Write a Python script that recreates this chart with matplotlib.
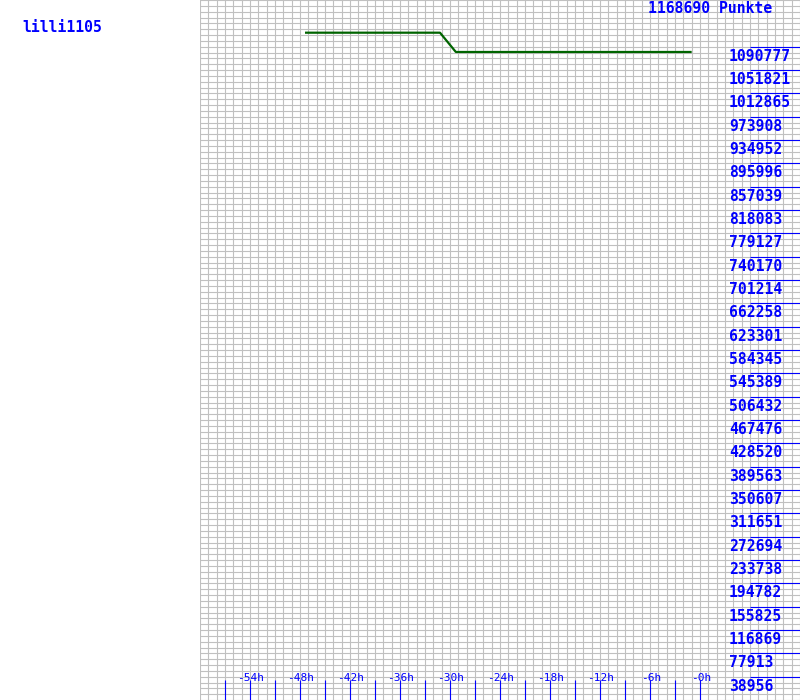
import matplotlib
matplotlib.use("Agg")
import matplotlib.pyplot as plt
import matplotlib.transforms as mtransforms
import numpy as np

# ---- data ----
player = "lilli1105"
max_points = 1168690
hours = [-47.4, -31.2, -29.3, -1.0]
points = [1114100, 1114100, 1081900, 1081900]
x_tick_hours = [-54, -48, -42, -36, -30, -24, -18, -12, -6, 0]
x_tick_labels = ["-54h", "-48h", "-42h", "-36h", "-30h", "-24h", "-18h", "-12h", "-6h", "-0h"]
y_tick_values = [38956, 77913, 116869, 155825, 194782, 233738, 272694, 311651,
                 350607, 389563, 428520, 467476, 506432, 545389, 584345, 623301,
                 662258, 701214, 740170, 779127, 818083, 857039, 895996, 934952,
                 973908, 1012865, 1051821, 1090777]

BLUE = "#0000ff"
GREEN = "#006400"
GRID = "#c0c0c0"
FONT = "DejaVu Sans Mono"

fig = plt.figure(figsize=(8, 7), dpi=100)
ax = fig.add_axes([0.25, 0.0, 0.75, 1.0])
ax.set_xlim(-60, 12)
ax.set_ylim(0, max_points)
for s in ax.spines.values():
    s.set_visible(False)

# grid
ax.set_xticks(np.arange(-60, 13, 1), minor=True)
ax.set_yticks(np.linspace(0, max_points, 121), minor=True)
ax.set_xticks([])
ax.set_yticks([])
ax.grid(which="minor", color=GRID, linewidth=0.8)
ax.tick_params(which="both", length=0, labelbottom=False, labelleft=False)
ax.set_axisbelow(True)

# series
ax.plot(hours, points, color=GREEN, linewidth=1.6, solid_capstyle="butt", zorder=3)

# y ticks and labels on right
ytrans = mtransforms.blended_transform_factory(ax.transAxes, ax.transData)
for v in y_tick_values:
    ax.plot([550 / 600, 1.0], [v, v], color=BLUE, linewidth=0.8, transform=ytrans,
            solid_capstyle="butt", zorder=4)
    t = mtransforms.offset_copy(ytrans, fig=fig, x=0, y=-2.0, units="dots")
    ax.text(529 / 600, v, str(v), transform=t, color=BLUE, fontsize=10.6,
            family=FONT, fontweight="bold", va="top", ha="left", zorder=5)

# x ticks (every 3h) and labels
xtrans = mtransforms.blended_transform_factory(ax.transData, ax.transAxes)
for h in range(-57, 1, 3):
    ax.plot([h, h], [0, 20 / 700], color=BLUE, linewidth=0.8, transform=xtrans,
            solid_capstyle="butt", zorder=4)
for h, lab in zip(x_tick_hours, x_tick_labels):
    ax.text(h + 0.12, 1 - 678 / 700, lab, transform=xtrans, color=BLUE, fontsize=8,
            family=FONT, va="center", ha="center", zorder=5)

# titles
fig.text(648 / 800, 1 - 1 / 700, f"{max_points} Punkte", color=BLUE, fontsize=10.6,
         family=FONT, fontweight="bold", va="top", ha="left")
fig.text(22 / 800, 1 - 28 / 700, player, color=BLUE, fontsize=10.6,
         family=FONT, fontweight="bold", va="center", ha="left")

fig.savefig("out.png", dpi=100)
